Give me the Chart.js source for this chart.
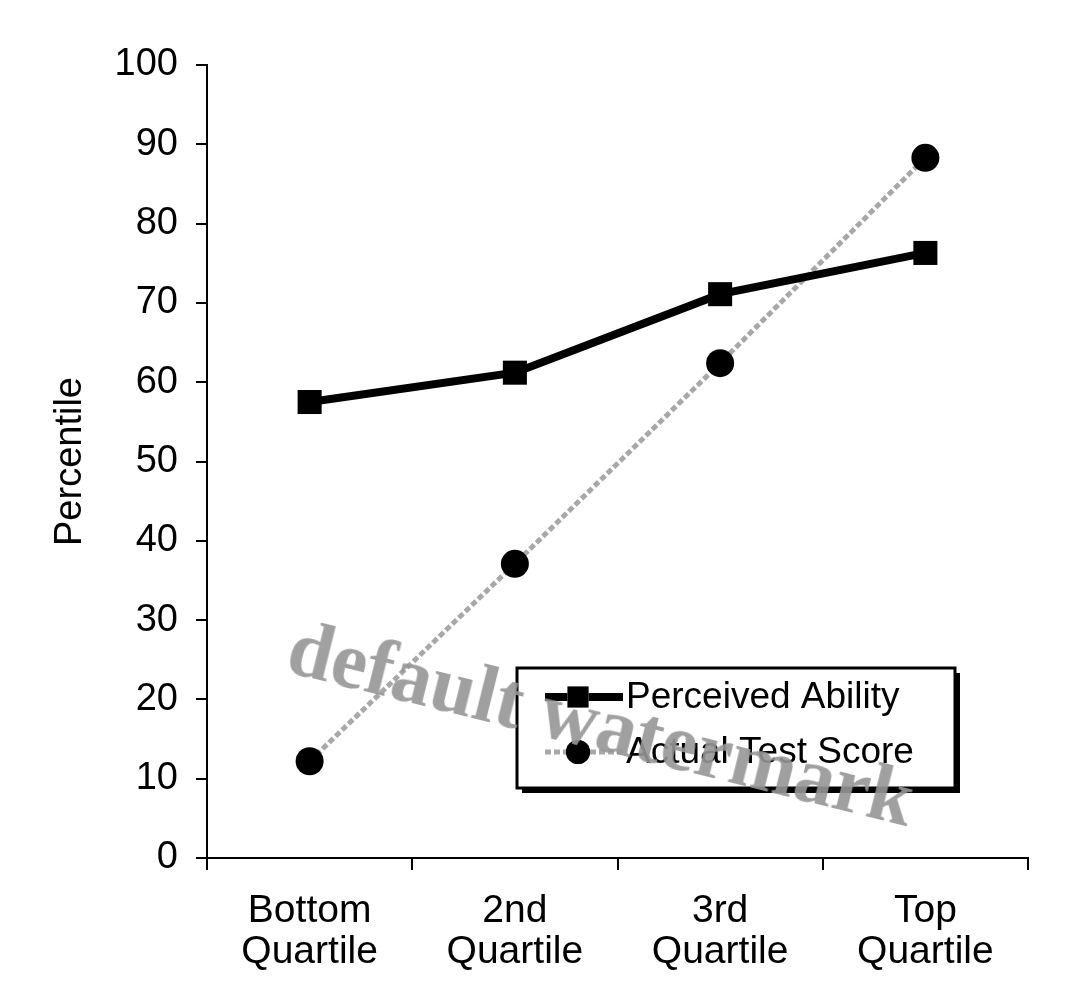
<!DOCTYPE html>
<html>
<head>
<meta charset="utf-8">
<script src="https://cdn.jsdelivr.net/npm/chart.js@4.4.0/dist/chart.umd.min.js"></script>
<style>
  html, body { margin: 0; padding: 0; background: #fff; }
  #wrap { position: relative; width: 1073px; height: 1001px; }
  #watermark {
    position: absolute; left: 300px; top: 606px;
    font: bold 80px "Liberation Serif", serif; line-height: 1;
    color: rgba(150, 150, 150, 0.9); white-space: nowrap;
    transform: rotate(14deg); transform-origin: 0 0; pointer-events: none;
  }
</style>
</head>
<body>
<div id="wrap">
  <canvas id="chart" width="1073" height="1001"></canvas>
  <div id="watermark">default watermark</div>
</div>
<script>
// data
const quartiles = [['Bottom', 'Quartile'], ['2nd', 'Quartile'], ['3rd', 'Quartile'], ['Top', 'Quartile']];
const perceivedAbility = [57.5, 61.2, 71.1, 76.3];
const actualTestScore = [12.2, 37.1, 62.4, 88.3];
const seriesNames = ['Perceived Ability', 'Actual Test Score'];

const FONT = "'Liberation Sans', Arial, sans-serif";

// legend box drawn inside the plot, with a drop shadow
const boxLegend = {
    id: 'boxLegend',
    afterDraw(chart) {
        const ctx = chart.ctx;
        const x = 517, y = 668, w = 438, h = 120;
        ctx.save();
        ctx.fillStyle = '#000';
        ctx.fillRect(x + 5, y + 5, w, h);
        ctx.fillStyle = '#fff';
        ctx.fillRect(x, y, w, h);
        ctx.lineWidth = 3;
        ctx.strokeStyle = '#000';
        ctx.strokeRect(x, y, w, h);
        chart.data.datasets.forEach((ds, i) => {
            const cy = y + 29 + i * 55;
            ctx.save();
            ctx.strokeStyle = ds.borderColor;
            ctx.lineWidth = ds.borderWidth;
            ctx.setLineDash(ds.borderDash || []);
            ctx.beginPath();
            ctx.moveTo(x + 28, cy);
            ctx.lineTo(x + 106, cy);
            ctx.stroke();
            ctx.restore();
            Chart.helpers.drawPoint(ctx, {
                pointStyle: ds.pointStyle, radius: ds.pointRadius - 2, borderWidth: 0
            }, x + 61, cy);
            ctx.fillStyle = '#000';
            ctx.fill();
            ctx.font = '37px ' + FONT;
            ctx.textBaseline = 'middle';
            ctx.fillText(ds.label, x + 109, cy + 1);
        });
        ctx.restore();
    }
};

const ctx = document.getElementById('chart').getContext('2d');
const chart = new Chart(ctx, {
    type: 'line',
    data: {
        labels: quartiles,
        datasets: [
            {
                label: seriesNames[0], data: perceivedAbility,
                borderColor: '#000', backgroundColor: '#000', borderWidth: 8,
                pointStyle: 'rect', pointRadius: 17, pointBorderWidth: 0
            },
            {
                label: seriesNames[1], data: actualTestScore,
                borderColor: '#a8a8a8', backgroundColor: '#000', borderWidth: 5,
                borderDash: [6, 3],
                pointStyle: 'circle', pointRadius: 14, pointBorderWidth: 0
            }
        ]
    },
    options: {
        responsive: false,
        devicePixelRatio: 1,
        animation: false,
        layout: { padding: { top: 65, right: 45, left: 0, bottom: 0 } },
        plugins: { legend: { display: false }, tooltip: { enabled: false } },
        scales: {
            x: {
                offset: true,
                grid: { display: true, drawOnChartArea: false, offset: true, tickLength: 12, color: '#000', lineWidth: 2 },
                border: { color: '#000', width: 2 },
                ticks: { color: '#000', padding: 21, font: { family: FONT, size: 39, lineHeight: 1.05 }, maxRotation: 0 },
                afterFit: s => { s.height = 143; }
            },
            y: {
                min: 0, max: 100,
                grid: { display: true, drawOnChartArea: false, tickLength: 11, color: '#000', lineWidth: 2 },
                border: { color: '#000', width: 2 },
                ticks: { stepSize: 10, color: '#000', padding: 18, font: { family: FONT, size: 38 } },
                title: { display: true, text: 'Percentile', color: '#000', font: { family: FONT, size: 38 }, padding: { top: 48, bottom: 0 } },
                afterFit: s => { s.width = 207; }
            }
        }
    },
    plugins: [boxLegend]
});
</script>
</body>
</html>
